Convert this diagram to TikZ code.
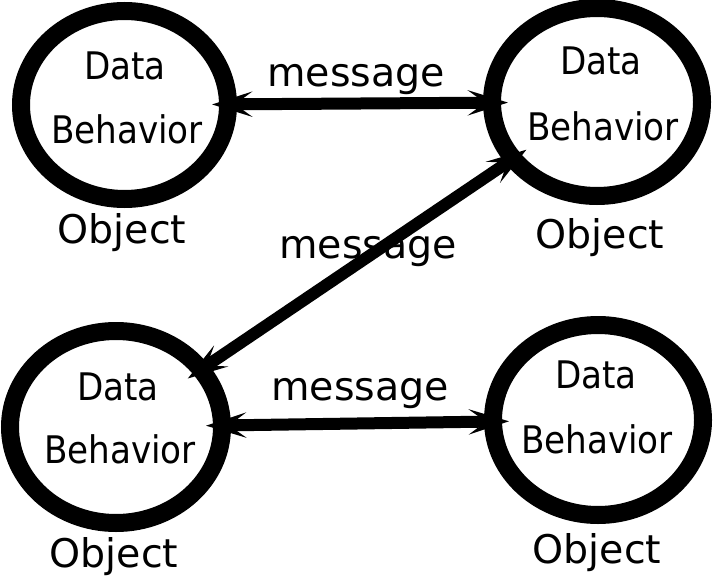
\documentclass[tikz,border=0pt]{standalone}
\usepackage{fontspec}
\setmainfont{DejaVu Sans}
\newfontfamily\condfont{DejaVu Sans Condensed}
\usetikzlibrary{arrows.meta,shapes.geometric}
\begin{document}
\begin{tikzpicture}[x=1pt,y=-1pt,
  objbox/.style={ellipse,draw=black,line width=18pt,inner sep=0pt,outer sep=0pt},
  field/.style={anchor=base,inner sep=0pt,font=\condfont\fontsize{38}{40}\selectfont},
  caption/.style={anchor=base,inner sep=0pt,font=\fontsize{39.5}{42}\selectfont},
  msg/.style={line width=12pt,>={Stealth[length=40pt,width=25pt,inset=17pt]},<->,
    shorten <=-16pt,shorten >=-16pt}]
\useasboundingbox (0,0) rectangle (714,575);
% four objects
\node[objbox,minimum width=207pt,minimum height=188pt] (tl) at (124.5,105) {};
\node[objbox,minimum width=210pt,minimum height=188pt] (tr) at (597,102) {};
\node[objbox,minimum width=212pt,minimum height=192pt] (bl) at (116,427) {};
\node[objbox,minimum width=210pt,minimum height=190pt] (br) at (598,420) {};
% contents of each object
\node[field] (tld) at (125,80) {Data};
\node[field] (tlb) at (127,143) {Behavior};
\node[field] (trd) at (601,75) {Data};
\node[field] (trb) at (603,140) {Behavior};
\node[field] (bld) at (118,400) {Data};
\node[field] (blb) at (120,463) {Behavior};
\node[field] (brd) at (596,388) {Data};
\node[field] (brb) at (597,453) {Behavior};
% object captions
\node[caption] (tlc) at (122,243) {Object};
\node[caption] (trc) at (600,248) {Object};
\node[caption] (blc) at (114,567) {Object};
\node[caption] (brc) at (597,563) {Object};
% messages between objects
\draw[msg] (tl) -- (tr);
\draw[msg] (bl) -- (tr);
\draw[msg] (bl) -- (br);
\node[caption] (m1) at (356,87) {message};
\node[caption] (m2) at (368,258) {message};
\node[caption] (m3) at (360,400) {message};
\end{tikzpicture}
\end{document}
